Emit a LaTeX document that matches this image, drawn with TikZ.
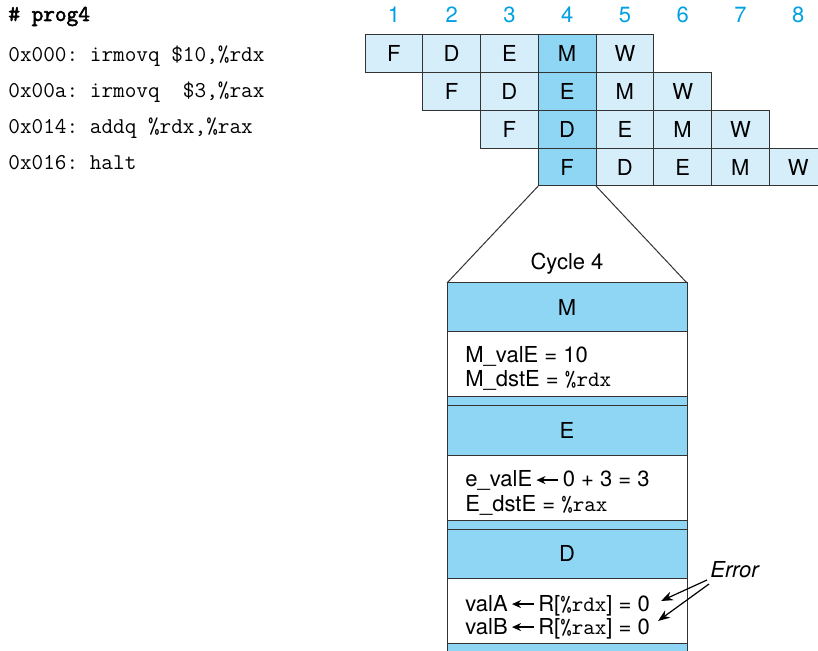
\documentclass[tikz,border=0pt]{standalone}
\usepackage{fontspec}
\setmainfont{TeX Gyre Heros}
\setmonofont{Latin Modern Mono}
\newfontfamily\titlefont{Latin Modern Mono}[FakeBold=2.5]
\usepackage{xcolor}
\usetikzlibrary{positioning,arrows.meta}

\definecolor{stagedark}{RGB}{143,214,245}
\definecolor{stagelight}{RGB}{214,237,250}
\definecolor{cyclecyan}{RGB}{0,160,227}

% small drawn arrow used inside the stage texts
\newcommand{\getsarrow}{\,\tikz[baseline=-0.6ex]\draw[-{Stealth[length=4.5pt,width=4pt]}, line width=0.6pt] (11pt,0) -- (0,0);\,}

\begin{document}
\begin{tikzpicture}[
    x=0.5pt, y=-0.5pt,
    cell/.style={draw=black!80, line width=0.5pt, inner sep=0pt, outer sep=0pt, minimum width=28.875pt, minimum height=18.875pt, font=\fontsize{11}{13}\selectfont},
    cyclenum/.style={anchor=base, text=cyclecyan, font=\fontsize{11}{13}\selectfont},
    code/.style={anchor=base west, inner sep=0pt, font=\fontsize{11.3}{13}\selectfont\ttfamily},
    stagehead/.style={draw=black!80, line width=0.5pt, fill=stagedark, inner sep=0pt, outer sep=0pt, minimum width=120pt, minimum height=24.5pt, font=\fontsize{11}{13}\selectfont},
    stagebody/.style={stagehead, fill=white, minimum height=32.5pt},
    strip/.style={stagehead, minimum height=4.5pt},
    stagetext/.style={anchor=base west, inner sep=0pt, font=\fontsize{11}{13}\selectfont},
    arrow/.style={-{Stealth[length=6pt,width=4.5pt]}, line width=0.6pt},
]
    \useasboundingbox (0,0) rectangle (818,651);

    % program listing
    \node[code, font=\fontsize{11.3}{13}\selectfont\titlefont] (title) at (8,21) {\# prog4};
    \node[code] (line1) at (8,62) {0x000: irmovq \$10,\%rdx};
    \node[code] (line2) at (8,98) {0x00a: irmovq~~\$3,\%rax};
    \node[code] (line3) at (8,134) {0x014: addq \%rdx,\%rax};
    \node[code] (line4) at (8,170) {0x016: halt};

    % cycle numbers
    \foreach \c in {1,...,8}
        \node[cyclenum] (num-\c) at ({365+57.75*(\c-0.5)},23) {\c};

    % pipeline diagram
    \foreach \r in {1,...,4} {
        \foreach \s [count=\k from 0] in {F,D,E,M,W} {
            \pgfmathtruncatemacro{\c}{\r+\k}
            \ifnum\c=4 \def\cellfill{stagedark}\else\def\cellfill{stagelight}\fi
            \node[cell, fill=\cellfill] (cell-\r-\c) at ({365+57.75*(\c-0.5)},{35+37.75*(\r-0.5)}) {\s};
        }
    }

    % expanded view of cycle 4
    \node[stagehead] (mhead) at (567,307.5) {M};
    \node[stagebody, below=0pt of mhead] (mbody) {};
    \node[strip, below=0pt of mbody] (mstrip) {};
    \node[stagehead, below=0pt of mstrip] (ehead) {E};
    \node[stagebody, below=0pt of ehead] (ebody) {};
    \node[strip, below=0pt of ebody] (estrip) {};
    \node[stagehead, below=0pt of estrip] (dhead) {D};
    \node[stagebody, below=0pt of dhead] (dbody) {};
    \node[strip, minimum height=10pt, below=0pt of dbody] (dstrip) {};

    \node[anchor=base, font=\fontsize{11}{13}\selectfont] (cycle) at (567,270) {Cycle 4};
    \draw[draw=black!80, line width=0.5pt] (cell-4-4.south west) -- (mhead.north west);
    \draw[draw=black!80, line width=0.5pt] (cell-4-4.south east) -- (mhead.north east);

    \node[stagetext] (mvale) at (465,363) {M\_valE = 10};
    \node[stagetext] (mdste) at (465,387) {M\_dstE = \texttt{\%rdx}};
    \node[stagetext] (evale) at (465,487) {e\_valE\getsarrow 0 + 3 = 3};
    \node[stagetext] (edste) at (465,511) {E\_dstE = \texttt{\%rax}};
    \node[stagetext] (vala) at (465,611) {valA\getsarrow R[\texttt{\%rdx}] = 0};
    \node[stagetext] (valb) at (465,634) {valB\getsarrow R[\texttt{\%rax}] = 0};

    % error annotation
    \node[stagetext, font=\fontsize{11}{13}\selectfont\itshape] (err) at (710,577) {Error};
    \coordinate (erra) at (707,580);
    \coordinate (errb) at (709,584);
    \coordinate (tipa) at (661,601);
    \coordinate (tipb) at (658,621);
    \draw[arrow] (erra) -- (tipa);
    \draw[arrow] (errb) -- (tipb);
\end{tikzpicture}
\end{document}
